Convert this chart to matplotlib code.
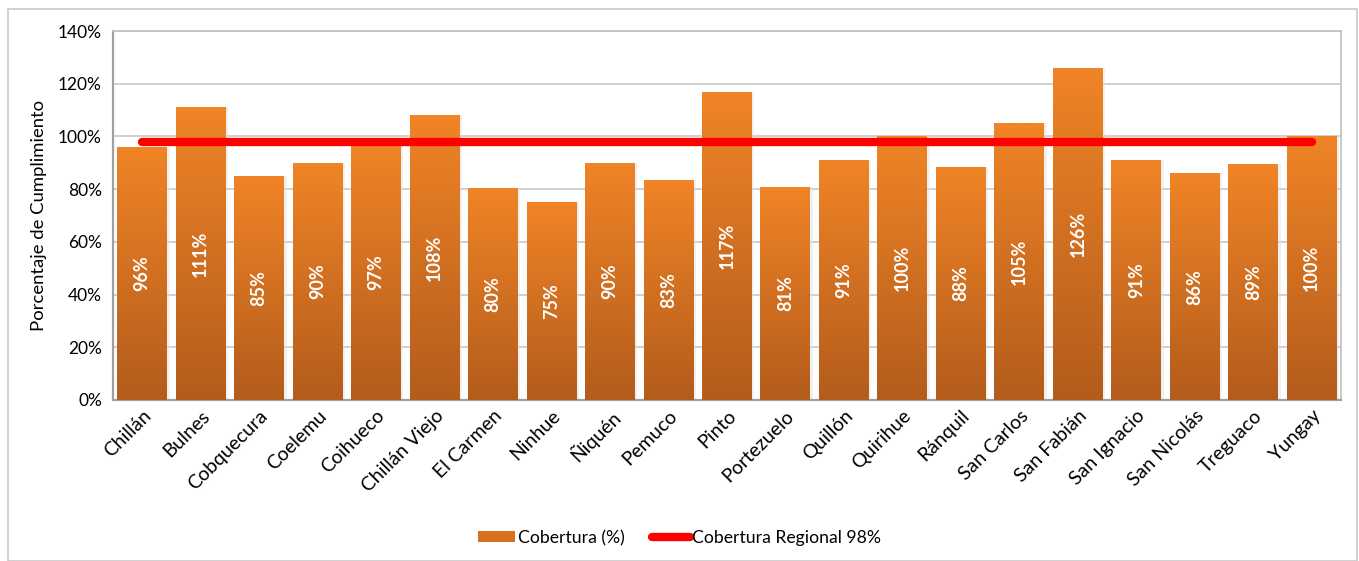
import matplotlib
matplotlib.use("Agg")
import matplotlib.pyplot as plt
import numpy as np
from matplotlib.patches import Rectangle, Patch
from matplotlib.lines import Line2D
from matplotlib.colors import LinearSegmentedColormap

comunas = ["Chillán", "Bulnes", "Cobquecura", "Coelemu", "Coihueco", "Chillán Viejo",
           "El Carmen", "Ninhue", "Ñiquén", "Pemuco", "Pinto", "Portezuelo", "Quillón",
           "Quirihue", "Ránquil", "San Carlos", "San Fabián", "San Ignacio", "San Nicolás",
           "Treguaco", "Yungay"]
cobertura = [96, 111, 85, 90, 97, 108, 80.4, 75, 90, 83.4, 117, 81, 91, 100, 88.4, 105,
             126, 91, 86, 89.4, 100]
regional = 98

plt.rcParams['font.family'] = ['Lato', 'DejaVu Sans']

fig = plt.figure(figsize=(13.59, 5.61), dpi=100)
fig.patches.append(Rectangle((8/1359, 0), 1349/1359, 1 - 9/561, transform=fig.transFigure,
                             fill=False, edgecolor='#c8c8c8', lw=1.2))
ax = fig.add_axes([113/1359, 1 - 400/561, (1341-113)/1359, (400-31)/561])

x = np.arange(len(comunas))
width = 0.855
cmap = LinearSegmentedColormap.from_list("og", ["#b35c1c", "#f08426"])
grad = np.linspace(0, 1, 256).reshape(-1, 1)

# subtle shadow
for xi, v in zip(x, cobertura):
    ax.add_patch(Rectangle((xi - width/2 + 0.04, 0), width, v, facecolor='#e0e0e0',
                           edgecolor='none', alpha=0.45, zorder=2))
bars = ax.bar(x, cobertura, width=width, color='#d8701f', zorder=3)
for b, v in zip(bars, cobertura):
    im = ax.imshow(grad, extent=(b.get_x(), b.get_x() + b.get_width(), 0, v),
                   origin='lower', cmap=cmap, aspect='auto', zorder=3.5)
    im.set_clip_path(b)
    ax.text(b.get_x() + b.get_width()/2, v/2, f"{round(v)}%", rotation=90,
            ha='center', va='center', color='white', fontsize=13, fontweight='bold',
            zorder=5)

ax.plot(x, [regional]*len(x), color='#ff0000', lw=6, solid_capstyle='round', zorder=4)

ax.set_xlim(-0.5, len(x) - 0.5)
ax.set_ylim(0, 140)
ax.set_yticks(range(0, 141, 20))
ax.set_yticklabels([f"{t}%" for t in range(0, 141, 20)], fontsize=12.5)
ax.set_xticks(x)
ax.set_xticklabels(comunas, rotation=45, ha='right', rotation_mode='anchor', fontsize=14)
ax.tick_params(axis='y', length=0, pad=8)
ax.tick_params(axis='x', length=0, pad=5)
ax.grid(axis='y', color='#c8c8c8', lw=1.2, zorder=0)
ax.set_axisbelow(True)
for s in ax.spines.values():
    s.set_color('#c0c0c0')
    s.set_linewidth(1.2)
ax.spines['left'].set_color('#a0a0a0')
ax.spines['left'].set_linewidth(1.6)
ax.spines['bottom'].set_color('#a0a0a0')
ax.spines['bottom'].set_linewidth(1.6)
ax.set_ylabel("Porcentaje de Cumplimiento", fontsize=13.3, labelpad=8)

handles = [Patch(facecolor='#d8701f', edgecolor='none', label='Cobertura (%)'),
           Line2D([0], [0], color='#ff0000', lw=6, solid_capstyle='round',
                  label='Cobertura Regional 98%')]
fig.legend(handles=handles, loc='center', bbox_to_anchor=(0.5, 1 - 538/561), ncol=2,
           frameon=False, fontsize=12.7, handlelength=2.1, handleheight=0.6,
           handletextpad=0.15, columnspacing=1.6)

fig.savefig("out.png", dpi=100)
